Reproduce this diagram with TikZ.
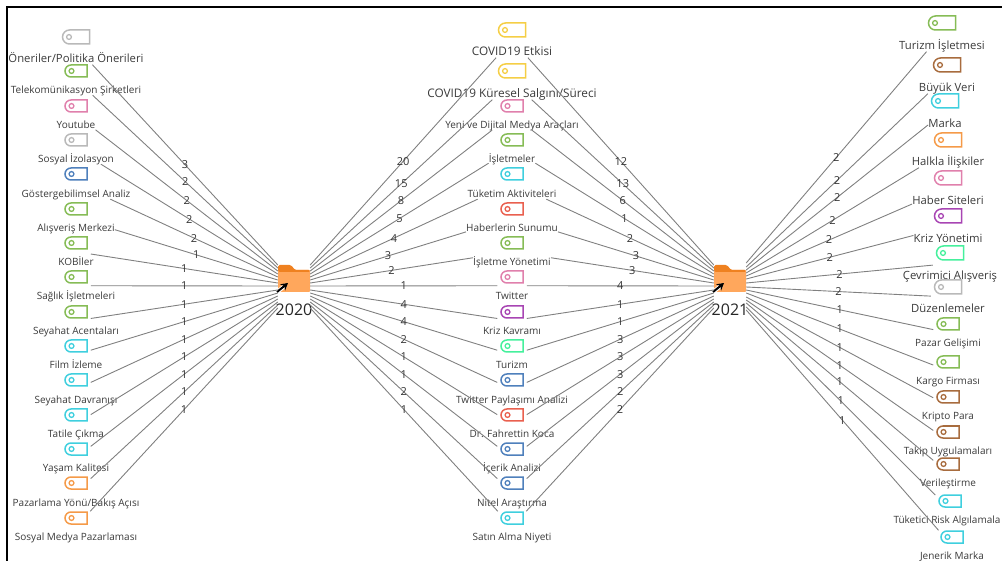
\documentclass[tikz,border=0pt]{standalone}
\usepackage{fontspec}
\setmainfont{Open Sans}
\usetikzlibrary{arrows.meta, positioning, fit, shapes.misc}

\definecolor{tgray}{HTML}{B9B9B9}
\definecolor{tgreen}{HTML}{86BC56}
\definecolor{tpink}{HTML}{E080AC}
\definecolor{tblue}{HTML}{4F80BC}
\definecolor{tcyan}{HTML}{3FCFDE}
\definecolor{torange}{HTML}{F59A48}
\definecolor{tyellow}{HTML}{F5CE45}
\definecolor{tred}{HTML}{E9604F}
\definecolor{tpurple}{HTML}{A845B3}
\definecolor{tmint}{HTML}{45F09C}
\definecolor{tbrown}{HTML}{A86C3E}
\definecolor{folderbody}{HTML}{FFA75C}
\definecolor{foldertab}{HTML}{EF8120}
\definecolor{inkgray}{HTML}{3A3A3A}

% tag icon with its text under it, box round both for the connector
\newcommand{\tagwide}[6]{%
  \node[#2] (#1tag) at (#3) {};
  \node[#4] (#1txt) at (#5) {#6};
  \node[itembox, fit=(#1tag)(#1txt)] (#1) {};
}
% same, but the box is only as wide as the icon
\newcommand{\tagitem}[6]{%
  \node[#2] (#1tag) at (#3) {};
  \node[#4] (#1txt) at (#5) {#6};
  \node[itembox, inner xsep=3pt, fit=(#1tag)(#1txt.north)(#1txt.south)] (#1) {};
}
% folder with its year
\newcommand{\folderhub}[3]{%
  \node[folder] (#1) at (#2,281) {};
  \node[hublabel, below=11pt of #1] (#1txt) {#3};
  \begin{scope}[shift={(#1.center)}]
    \fill[foldertab, rounded corners=1.5pt] (-16,-9) -- (-16,-16) -- (-3,-16) -- (1,-11) -- (16,-11) -- (16,-9) -- cycle;
    \draw[white, line width=4pt] (-17,11) -- (-8,4);
    \draw[shortcut] (-17,11) -- (-6,2);
  \end{scope}
}

\begin{document}
\begin{tikzpicture}[
  x=1pt, y=-1pt,
  tagbox/.style={rounded rectangle, rounded rectangle east arc=none, draw=#1, line width=1.5pt,
    minimum width=22pt, minimum height=12pt, inner sep=0pt,
    path picture={\draw[#1, line width=1.3pt] ([xshift=6.5pt]path picture bounding box.west) circle (2.4pt);}},
  bigtag/.style={tagbox=#1, minimum width=27pt, minimum height=14pt},
  lbl/.style={font=\fontsize{10}{12}\selectfont, text=inkgray, inner sep=0pt, text height=8.5pt, text depth=1.5pt},
  lblbig/.style={lbl, font=\fontsize{11.3}{13}\selectfont, text height=9pt, text depth=2pt},
  lbltop/.style={lblbig, font=\fontsize{11.8}{14}\selectfont},
  itembox/.style={inner sep=0pt, outer sep=0pt},
  folder/.style={fill=folderbody, rounded corners=1pt, minimum width=32pt, minimum height=22pt, inner sep=0pt},
  hublabel/.style={font=\fontsize{16}{18}\selectfont, text=black!85, inner sep=0pt},
  shortcut/.style={-{Stealth[length=7pt, width=8pt]}, line width=2pt, black},
  link/.style={draw=black!50, line width=0.9pt},
  wgt/.style={font=\fontsize{11}{13}\selectfont, text=black!80, inner sep=0pt}
]
\useasboundingbox (0,0) rectangle (1002,561);

% Frame
\draw[line width=2pt] (7,561) -- (7,7) -- (1002,7);

% Folders
\folderhub{h2020}{294}{2020}
\folderhub{h2021}{730}{2021}

% Left column
\tagwide{lf1}{bigtag=tgray}{76,37}{lblbig}{76,59}{Öneriler/Politika Önerileri}
\tagwide{lf2}{tagbox=tgreen}{76,71}{lbl}{76,90}{Telekomünikasyon Şirketleri}
\tagwide{lf3}{tagbox=tpink}{76,106}{lbl}{76,125}{Youtube}
\tagwide{lf4}{tagbox=tgray}{76,140}{lbl}{76,159}{Sosyal İzolasyon}
\tagwide{lf5}{tagbox=tblue}{76,174}{lbl}{76,194}{Göstergebilimsel Analiz}
\tagwide{lf6}{tagbox=tgreen}{76,209}{lbl}{76,228}{Alışveriş Merkezi}
\tagitem{lf7}{tagbox=tgreen}{76,243}{lbl}{76,262}{KOBİler}
\tagitem{lf8}{tagbox=tgreen}{76,277}{lbl}{76,296}{Sağlık İşletmeleri}
\tagitem{lf9}{tagbox=tgreen}{76,312}{lbl}{76,331}{Seyahat Acentaları}
\tagitem{lf10}{tagbox=tcyan}{76,346}{lbl}{76,365}{Film İzleme}
\tagitem{lf11}{tagbox=tcyan}{76,380}{lbl}{76,400}{Seyahat Davranışı}
\tagitem{lf12}{tagbox=tcyan}{76,415}{lbl}{76,434}{Tatile Çıkma}
\tagitem{lf13}{tagbox=tcyan}{76,449}{lbl}{76,468}{Yaşam Kalitesi}
\tagitem{lf14}{tagbox=torange}{76,483}{lbl}{76,503}{Pazarlama Yönü/Bakış Açısı}
\tagitem{lf15}{tagbox=torange}{76,518}{lbl}{76,537}{Sosyal Medya Pazarlaması}

% Middle column
\tagwide{md1}{bigtag=tyellow}{512,30}{lbltop}{512,52}{COVID19 Etkisi}
\tagwide{md2}{bigtag=tyellow}{512,71}{lbltop}{512,94}{COVID19 Küresel Salgını/Süreci}
\tagwide{md3}{tagbox=tpink}{512,106}{lbl}{512,125}{Yeni ve Dijital Medya Araçları}
\tagwide{md4}{tagbox=tgreen}{512,140}{lbl}{512,159}{İşletmeler}
\tagwide{md5}{tagbox=tcyan}{512,174}{lbl}{512,194}{Tüketim Aktiviteleri}
\tagwide{md6}{tagbox=tred}{512,209}{lbl}{512,228}{Haberlerin Sunumu}
\tagwide{md7}{tagbox=tgreen}{512,243}{lbl}{512,262}{İşletme Yönetimi}
\tagitem{md8}{tagbox=tpink}{512,277}{lbl}{512,296}{Twitter}
\tagitem{md9}{tagbox=tpurple}{512,312}{lbl}{512,331}{Kriz Kavramı}
\tagitem{md10}{tagbox=tmint}{512,346}{lbl}{512,365}{Turizm}
\tagitem{md11}{tagbox=tblue}{512,380}{lbl}{512,400}{Twitter Paylaşımı Analizi}
\tagitem{md12}{tagbox=tred}{512,415}{lbl}{512,434}{Dr. Fahrettin Koca}
\tagitem{md13}{tagbox=tblue}{512,449}{lbl}{512,468}{İçerik Analizi}
\tagitem{md14}{tagbox=tblue}{512,483}{lbl}{512,503}{Nitel Araştırma}
\tagitem{md15}{tagbox=tcyan}{512,518}{lbl}{512,537}{Satın Alma Niyeti}

% Right column
\tagwide{rt1}{bigtag=tgreen}{942,23}{lblbig}{942,46}{Turizm İşletmesi}
\tagwide{rt2}{bigtag=tbrown}{947,65}{lblbig}{947,88}{Büyük Veri}
\tagwide{rt3}{bigtag=tcyan}{945,101}{lblbig}{945,124}{Marka}
\tagwide{rt4}{bigtag=torange}{948,140}{lblbig}{948,162}{Halkla İlişkiler}
\tagwide{rt5}{bigtag=tpink}{948,178}{lblbig}{948,201}{Haber Siteleri}
\tagwide{rt6}{bigtag=tpurple}{948,216}{lblbig}{948,239}{Kriz Yönetimi}
\tagitem{rt7}{bigtag=tmint}{950,253}{lblbig}{950,276}{Çevrimici Alışveriş}
\tagitem{rt8}{bigtag=tgray}{948,287}{lblbig}{948,309}{Düzenlemeler}
\tagitem{rt9}{tagbox=tgreen}{948,324}{lbl}{948,343}{Pazar Gelişimi}
\tagitem{rt10}{tagbox=tgreen}{948,362}{lbl}{948,381}{Kargo Firması}
\tagitem{rt11}{tagbox=tbrown}{948,397}{lbl}{948,416}{Kripto Para}
\tagitem{rt12}{tagbox=tbrown}{948,432}{lbl}{948,451}{Takip Uygulamaları}
\tagitem{rt13}{tagbox=tbrown}{948,464}{lbl}{948,483}{Verileştirme}
\tagitem{rt14}{tagbox=tcyan}{950,501}{lbl}{947,520}{Tüketici Risk Algılamala}
\tagitem{rt15}{tagbox=tcyan}{952,537}{lbl}{952,556}{Jenerik Marka}

% Arrows

% Left column to 2020
\draw[link] (lf1) -- node[midway, wgt] {3} ([yshift=16pt]h2020.west);
\draw[link] (lf2) -- node[midway, wgt] {2} ([yshift=13pt]h2020.west);
\draw[link] (lf3) -- node[midway, wgt] {2} ([yshift=10pt]h2020.west);
\draw[link] (lf4) -- node[midway, wgt] {2} ([yshift=7pt]h2020.west);
\draw[link] (lf5) -- node[midway, wgt] {2} ([yshift=4pt]h2020.west);
\draw[link] (lf6) -- node[midway, wgt] {1} ([yshift=1pt]h2020.west);
\draw[link] (lf7) -- node[midway, wgt] {1} ([yshift=-2pt]h2020.west);
\draw[link] (lf8) -- node[midway, wgt] {1} ([yshift=-5pt]h2020.west);
\draw[link] (lf9) -- node[midway, wgt] {1} ([yshift=-9pt]h2020.west);
\draw[link] (lf10) -- node[midway, wgt] {1} ([yshift=-12pt]h2020.west);
\draw[link] (lf11) -- node[midway, wgt] {1} ([yshift=-15pt]h2020.west);
\draw[link] (lf12) -- node[midway, wgt] {1} ([yshift=-18pt]h2020.west);
\draw[link] (lf13) -- node[midway, wgt] {1} ([yshift=-21pt]h2020.west);
\draw[link] (lf14) -- node[midway, wgt] {1} ([yshift=-24pt]h2020.west);
\draw[link] (lf15) -- node[midway, wgt] {1} ([yshift=-27pt]h2020.west);

% 2020 to middle column
\draw[link] (md1) -- node[midway, wgt] {20} ([yshift=16pt]h2020.east);
\draw[link] (md2) -- node[midway, wgt] {15} ([yshift=13pt]h2020.east);
\draw[link] (md3) -- node[midway, wgt] {8} ([yshift=10pt]h2020.east);
\draw[link] (md4) -- node[midway, wgt] {5} ([yshift=7pt]h2020.east);
\draw[link] (md5) -- node[midway, wgt] {4} ([yshift=4pt]h2020.east);
\draw[link] (md6) -- node[midway, wgt] {3} ([yshift=1pt]h2020.east);
\draw[link] (md7) -- node[midway, wgt] {2} ([yshift=-2pt]h2020.east);
\draw[link] (md8) -- node[midway, wgt] {1} ([yshift=-5pt]h2020.east);
\draw[link] (md9) -- node[midway, wgt] {4} ([yshift=-9pt]h2020.east);
\draw[link] (md10) -- node[midway, wgt] {4} ([yshift=-12pt]h2020.east);
\draw[link] (md11) -- node[midway, wgt] {2} ([yshift=-15pt]h2020.east);
\draw[link] (md12) -- node[midway, wgt] {1} ([yshift=-18pt]h2020.east);
\draw[link] (md13) -- node[midway, wgt] {1} ([yshift=-21pt]h2020.east);
\draw[link] (md14) -- node[midway, wgt] {2} ([yshift=-24pt]h2020.east);
\draw[link] (md15) -- node[midway, wgt] {1} ([yshift=-27pt]h2020.east);

% Middle column to 2021
\draw[link] (md1) -- node[midway, wgt] {12} ([yshift=16pt]h2021.west);
\draw[link] (md2) -- node[midway, wgt] {13} ([yshift=13pt]h2021.west);
\draw[link] (md3) -- node[midway, wgt] {6} ([yshift=10pt]h2021.west);
\draw[link] (md4) -- node[midway, wgt] {1} ([yshift=7pt]h2021.west);
\draw[link] (md5) -- node[midway, wgt] {2} ([yshift=4pt]h2021.west);
\draw[link] (md6) -- node[midway, wgt] {3} ([yshift=1pt]h2021.west);
\draw[link] (md7) -- node[midway, wgt] {3} ([yshift=-2pt]h2021.west);
\draw[link] (md8) -- node[midway, wgt] {4} ([yshift=-5pt]h2021.west);
\draw[link] (md9) -- node[midway, wgt] {1} ([yshift=-9pt]h2021.west);
\draw[link] (md10) -- node[midway, wgt] {1} ([yshift=-12pt]h2021.west);
\draw[link] (md11) -- node[midway, wgt] {3} ([yshift=-15pt]h2021.west);
\draw[link] (md12) -- node[midway, wgt] {3} ([yshift=-18pt]h2021.west);
\draw[link] (md13) -- node[midway, wgt] {3} ([yshift=-21pt]h2021.west);
\draw[link] (md14) -- node[midway, wgt] {2} ([yshift=-24pt]h2021.west);
\draw[link] (md15) -- node[midway, wgt] {2} ([yshift=-27pt]h2021.west);

% 2021 to right column
\draw[link] (rt1) -- node[midway, wgt] {2} ([yshift=18pt]h2021.east);
\draw[link] (rt2) -- node[midway, wgt] {2} ([yshift=14pt]h2021.east);
\draw[link] (rt3) -- node[midway, wgt] {2} ([yshift=11pt]h2021.east);
\draw[link] (rt4) -- node[midway, wgt] {2} ([yshift=8pt]h2021.east);
\draw[link] (rt5) -- node[midway, wgt] {2} ([yshift=5pt]h2021.east);
\draw[link] (rt6) -- node[midway, wgt] {2} ([yshift=2pt]h2021.east);
\draw[link] (rt7) -- node[midway, wgt] {2} ([yshift=-2pt]h2021.east);
\draw[link] (rt8) -- node[midway, wgt] {2} ([yshift=-6pt]h2021.east);
\draw[link] (rt9) -- node[midway, wgt] {1} ([yshift=-9pt]h2021.east);
\draw[link] (rt10) -- node[midway, wgt] {1} ([yshift=-12pt]h2021.east);
\draw[link] (rt11) -- node[midway, wgt] {1} ([yshift=-16pt]h2021.east);
\draw[link] (rt12) -- node[midway, wgt] {1} ([yshift=-19pt]h2021.east);
\draw[link] (rt13) -- node[midway, wgt] {1} ([yshift=-22pt]h2021.east);
\draw[link] (rt14) -- node[midway, wgt] {1} ([yshift=-26pt]h2021.east);
\draw[link] (rt15) -- node[midway, wgt] {1} ([yshift=-29pt]h2021.east);

\end{tikzpicture}
\end{document}
